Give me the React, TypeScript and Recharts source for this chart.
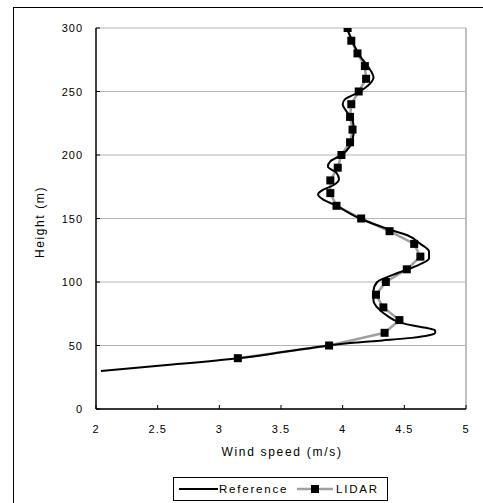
import React from "react";
import {
  LineChart,
  Line,
  XAxis,
  YAxis,
  CartesianGrid,
  ReferenceLine,
} from "recharts";

// ── Data ──────────────────────────────────────────────────────────────────────

const speedTicks = [2, 2.5, 3, 3.5, 4, 4.5, 5];
const heightTicks = [0, 50, 100, 150, 200, 250, 300];

// Reference profile (black smooth curve)
const refHeights = [
  30, 35, 40, 45, 50, 52, 54, 56, 58, 60, 62, 63.5, 65.5, 68, 73.5, 79, 85.5,
  93, 100, 105, 112, 118.5, 124, 130, 137, 141, 150, 160.5, 165, 169, 172, 176,
  181, 186, 191, 195, 200, 207, 212, 220, 228, 234.5, 240, 244, 249, 256, 261,
  269, 278, 287, 296, 300,
];
const refSpeeds = [
  2.04, 2.62, 3.15, 3.53, 3.89, 4.06, 4.32, 4.56, 4.7, 4.75, 4.75, 4.7, 4.58,
  4.47, 4.36, 4.29, 4.25, 4.25, 4.28, 4.39, 4.58, 4.7, 4.7, 4.63, 4.52, 4.39,
  4.14, 3.94, 3.84, 3.8, 3.83, 3.92, 3.97, 3.95, 3.88, 3.9, 3.99, 4.06, 4.08,
  4.09, 4.08, 4.03, 4.0, 4.02, 4.12, 4.22, 4.25, 4.21, 4.14, 4.09, 4.05, 4.03,
];

// LIDAR measurements (grey line with black squares)
const lidarHeights = [
  40, 50, 60, 70, 80, 90, 100, 110, 120, 130, 140, 150, 160, 170, 180, 190,
  200, 210, 220, 230, 240, 250, 260, 270, 280, 290, 300,
];
const lidarSpeeds = [
  3.15, 3.89, 4.34, 4.46, 4.33, 4.27, 4.35, 4.52, 4.63, 4.58, 4.38, 4.15, 3.95,
  3.9, 3.9, 3.96, 3.99, 4.06, 4.08, 4.06, 4.07, 4.13, 4.19, 4.18, 4.12, 4.07,
  4.04,
];

const referenceData = refHeights.map((h, i) => ({ height: h, speed: refSpeeds[i] }));
const lidarData = lidarHeights.map((h, i) => ({ height: h, speed: lidarSpeeds[i] }));

// ── Layout / style ────────────────────────────────────────────────────────────

const FONT = "'Liberation Sans', Arial, sans-serif";
const PLOT_LEFT = 96;
const PLOT_BOTTOM = 409;
const GRID = "#b4b4b4";
const LIDAR_LINE = "#a0a0a0";

function YTick(props: any) {
  const { y, payload } = props;
  return (
    <g>
      <line x1={PLOT_LEFT} x2={PLOT_LEFT + 4} y1={y} y2={y} stroke="#000" />
      <text
        x={83}
        y={y}
        textAnchor="end"
        dominantBaseline="central"
        fontFamily={FONT}
        fontSize={11}
        letterSpacing={1}
        fill="#000"
      >
        {payload.value}
      </text>
    </g>
  );
}

function XTick(props: any) {
  const { x, payload } = props;
  return (
    <g>
      <line x1={x} x2={x} y1={PLOT_BOTTOM} y2={PLOT_BOTTOM - 4} stroke="#000" />
      <text
        x={x}
        y={429}
        textAnchor="middle"
        dominantBaseline="central"
        fontFamily={FONT}
        fontSize={11}
        letterSpacing={1}
        fill="#000"
      >
        {payload.value}
      </text>
    </g>
  );
}

function SquareDot(props: any) {
  const { cx, cy, index } = props;
  if (cx == null || cy == null) return <g key={`d-${index}`} />;
  return <rect key={`d-${index}`} x={cx - 4} y={cy - 4} width={8} height={8} fill="#000" />;
}

export default function App() {
  return (
    <div
      style={{
        position: "absolute",
        left: 0,
        top: 0,
        width: 483,
        height: 503,
        overflow: "hidden",
        background: "#fff",
        fontFamily: FONT,
      }}
    >
      {/* outer chart frame, runs off the picture on the right and bottom */}
      <div
        style={{
          position: "absolute",
          left: 13,
          top: 7,
          width: 500,
          height: 520,
          border: "1px solid #000",
          boxSizing: "border-box",
        }}
      />

      <div style={{ position: "absolute", left: 0, top: 0 }}>
        <LineChart
          width={483}
          height={503}
          margin={{ top: 28, right: 17, left: 56, bottom: 64 }}
        >
          <CartesianGrid horizontal vertical={false} stroke={GRID} />
          <ReferenceLine x={5} stroke="#c0c0c0" strokeWidth={2} />
          <XAxis
            type="number"
            dataKey="speed"
            domain={[2, 5]}
            ticks={speedTicks}
            allowDataOverflow
            height={30}
            axisLine={{ stroke: "#000", strokeWidth: 1.5 }}
            tickLine={false}
            tick={<XTick />}
            label={{
              content: () => (
                <text
                  x={282}
                  y={452}
                  textAnchor="middle"
                  dominantBaseline="central"
                  fontFamily={FONT}
                  fontSize={12}
                  letterSpacing={1.7}
                  fill="#000"
                >
                  Wind speed (m/s)
                </text>
              ),
            }}
          />
          <YAxis
            type="number"
            dataKey="height"
            domain={[0, 300]}
            ticks={heightTicks}
            allowDataOverflow
            width={40}
            axisLine={{ stroke: "#000", strokeWidth: 1.5 }}
            tickLine={false}
            tick={<YTick />}
            label={{
              content: () => (
                <text
                  x={40}
                  y={222}
                  transform="rotate(-90 40 222)"
                  textAnchor="middle"
                  dominantBaseline="central"
                  fontFamily={FONT}
                  fontSize={12}
                  letterSpacing={1.6}
                  fill="#000"
                >
                  Height (m)
                </text>
              ),
            }}
          />
          <Line
            data={lidarData}
            dataKey="height"
            type="linear"
            stroke={LIDAR_LINE}
            strokeWidth={2.5}
            dot={<SquareDot />}
            activeDot={false}
            isAnimationActive={false}
          />
          <Line
            data={referenceData}
            dataKey="height"
            type="monotoneY"
            stroke="#000"
            strokeWidth={2}
            dot={false}
            activeDot={false}
            isAnimationActive={false}
          />
        </LineChart>
      </div>

      {/* legend */}
      <div
        style={{
          position: "absolute",
          left: 173,
          top: 477,
          width: 215,
          height: 24,
          border: "1px solid #000",
          boxSizing: "border-box",
          background: "#fff",
        }}
      >
        <svg width={213} height={22} style={{ display: "block" }}>
          <line x1={5} x2={44} y1={11} y2={11} stroke="#000" strokeWidth={2} />
          <text
            x={45}
            y={11}
            dominantBaseline="central"
            fontFamily={FONT}
            fontSize={11.5}
            letterSpacing={1.8}
            fill="#000"
          >
            Reference
          </text>
          <line x1={123} x2={159} y1={11} y2={11} stroke={LIDAR_LINE} strokeWidth={2.5} />
          <rect x={137} y={7} width={8} height={8} fill="#000" />
          <text
            x={162}
            y={11}
            dominantBaseline="central"
            fontFamily={FONT}
            fontSize={11.5}
            letterSpacing={1.8}
            fill="#000"
          >
            LIDAR
          </text>
        </svg>
      </div>
    </div>
  );
}
